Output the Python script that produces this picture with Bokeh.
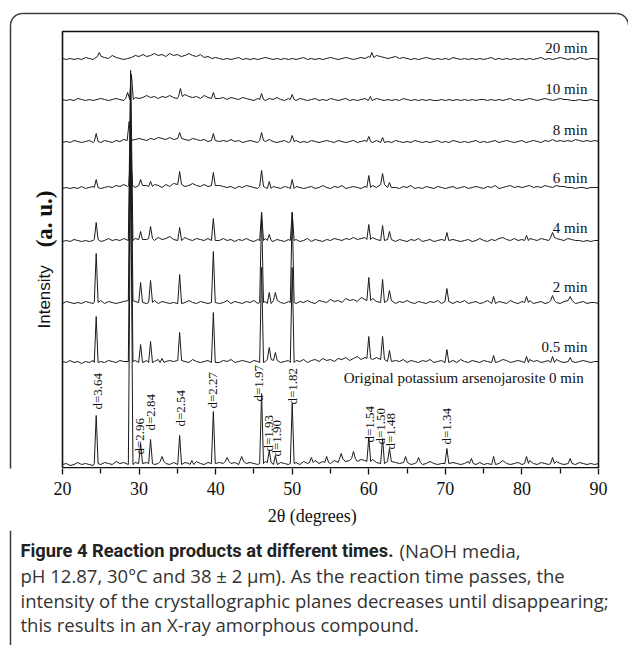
import math
from bokeh.plotting import figure
from bokeh.layouts import column
from bokeh.models import Range1d, FixedTicker
from bokeh.core.properties import value
from bokeh.embed import file_html
from bokeh.resources import INLINE

# ---------------- data ----------------
x_start = 20.0
x_step = 0.5   # sampling step of the background readings (degrees 2-theta)

series_names = ["0 min", "0.5 min", "2 min", "4 min", "6 min", "8 min", "10 min", "20 min"]
offsets = [2, 104, 163, 225, 278, 324, 366, 407]

noise_0 = [2,3,1,2,4,2,3,2,1,3,2,4,3,2,5,3,4,3,2,4,
           3,2,4,3,2,3,5,3,2,4,3,2,4,3,2,5,3,2,4,3,
           2,4,3,5,3,4,2,5,3,4,3,2,3,5,4,3,2,4,3,2,
           3,4,2,5,3,4,6,3,5,4,3,6,4,7,5,6,8,5,7,6,
           5,7,4,6,3,5,7,4,3,5,4,2,3,4,2,3,5,3,2,3,
           3,2,4,3,2,3,5,3,2,4,2,3,4,2,3,6,3,2,3,4,
           2,3,6,3,2,4,3,2,3,5,3,2,4,3,2,4,3,2,3,2,
           3]
noise_05 = [3,2,4,2,3,1,3,2,4,2,3,2,4,3,2,4,3,5,3,4,
            2,3,4,2,3,5,2,3,4,3,2,4,3,2,5,3,2,3,4,2,
            3,2,4,3,5,2,3,4,3,2,4,3,2,3,5,3,4,2,3,4,
            2,4,3,5,2,4,5,3,6,4,5,3,6,5,7,4,6,8,5,7,
            6,5,7,4,5,3,6,4,3,5,2,4,3,2,4,3,5,2,3,4,
            2,3,4,2,5,3,2,4,3,2,4,3,5,2,3,5,4,2,3,4,
            3,2,5,3,4,2,3,4,2,5,3,2,4,3,2,3,4,3,2,3,
            3]
noise_2 = [2,4,3,2,3,2,4,3,2,3,5,2,4,3,2,3,4,3,5,4,
           3,4,2,3,5,2,4,3,2,3,4,2,3,5,3,2,4,3,2,3,
           4,2,3,5,2,4,3,2,4,3,5,2,3,4,2,3,5,3,2,4,
           3,2,4,3,5,3,2,5,4,3,6,4,5,3,7,5,6,4,8,6,
           5,7,4,6,3,5,4,2,4,3,5,3,2,4,3,2,4,3,5,2,
           4,3,2,4,3,5,2,3,4,2,3,5,3,2,4,3,2,5,3,2,
           4,3,5,2,3,4,2,3,5,3,2,4,3,5,2,3,4,2,3,3,
           2]
noise_4 = [2,3,2,4,3,2,3,2,3,4,2,3,5,3,4,3,5,4,3,5,
           4,6,4,5,3,6,4,5,7,4,5,3,6,4,3,5,4,3,5,3,
           4,3,5,3,4,2,4,3,5,3,2,4,3,5,3,2,4,3,2,4,
           3,4,2,3,5,2,4,3,2,4,3,5,4,3,5,4,6,4,5,6,
           4,6,4,5,3,4,3,2,4,3,2,4,3,5,2,3,4,2,3,4,
           3,2,4,3,2,3,4,2,3,5,3,2,4,3,5,6,4,3,5,3,
           4,3,5,4,3,5,4,3,6,5,4,3,5,4,3,3,2,3,2,3,
           3]
noise_6 = [2,3,2,3,2,4,2,3,4,3,2,3,4,3,5,4,6,4,5,3,
           5,7,5,4,6,5,3,6,4,7,5,6,4,5,7,5,4,6,4,5,
           3,5,4,3,4,2,4,3,5,4,3,2,4,3,2,4,3,2,4,3,
           2,4,3,2,3,4,2,3,5,3,2,4,3,5,2,3,4,3,2,4,
           3,5,3,4,6,3,4,3,2,4,3,5,2,3,2,4,3,2,4,3,
           2,3,4,2,3,4,2,3,4,3,2,4,3,5,2,3,4,5,3,4,
           3,4,5,3,4,3,5,4,3,5,4,4,3,3,2,3,3,2,3,3,
           3]
noise_8 = [2,3,2,4,3,2,3,4,2,3,2,4,3,2,4,3,5,4,3,5,
           6,5,4,6,5,7,6,5,7,5,4,6,5,4,6,5,4,5,3,4,
           5,3,4,3,5,3,4,2,3,4,3,2,4,3,5,3,2,3,4,2,
           3,4,2,3,2,4,3,2,3,4,3,2,4,3,2,3,4,2,3,4,
           3,2,4,3,2,3,2,4,3,2,3,2,4,3,2,3,2,3,4,2,
           3,2,4,3,2,3,2,3,4,2,3,2,3,4,2,3,4,3,2,3,
           4,2,3,4,3,2,4,3,5,3,4,3,4,3,5,4,3,4,3,4,
           3]
noise_10 = [3,2,3,2,4,3,2,3,2,3,4,3,2,3,4,3,2,4,3,5,
            4,5,7,5,6,4,6,5,7,5,4,6,8,6,5,6,4,7,5,4,
            6,4,5,3,5,4,3,5,4,3,2,4,3,2,4,3,5,3,2,4,
            3,2,4,3,2,3,4,2,3,2,4,3,2,3,4,2,3,2,3,4,
            2,3,4,3,2,3,2,3,2,4,3,2,3,2,3,2,3,2,2,3,
            2,3,2,3,2,3,2,3,2,3,3,2,3,2,3,2,3,4,2,3,
            2,3,4,3,2,3,4,3,2,3,4,3,3,2,2,3,2,2,3,2,
            2]
noise_20 = [3,2,3,2,3,2,4,3,2,3,5,4,3,6,4,3,2,3,4,6,
            5,7,5,6,8,6,7,5,8,6,7,5,6,8,6,5,7,4,5,3,
            4,3,2,3,2,3,4,2,3,2,3,2,3,4,3,2,3,2,3,2,
            3,2,3,4,2,3,2,3,2,3,4,3,2,3,4,3,2,3,4,3,
            5,4,6,5,4,3,4,5,3,4,3,2,3,2,3,4,3,2,3,2,
            3,2,4,3,2,3,2,3,2,3,2,3,4,2,3,2,3,2,3,2,
            3,2,3,2,3,4,2,3,2,3,4,3,2,3,2,4,3,2,3,3,
            2]

# reflections: (2-theta, height above background)
peaks_0 = [(24.4,48),(28.9,305),(30.2,20),(31.5,24),(33.0,5),(35.3,29),(36.9,4),(39.7,52),
           (41.5,4),(43.4,5),(46.0,70),(47.0,12),(47.8,9),(50.0,60),(52.5,5),(54.5,6),(56.4,6),
           (58.0,7),(60.0,24),(61.8,25),(62.7,13),(64.8,6),(66.5,5),(70.2,15),(73.4,5),(76.3,8),
           (80.6,7),(84.0,6),(86.3,5)]
peaks_05 = [(24.4,46),(28.9,240),(30.2,18),(31.5,21),(33.0,4),(35.3,28),(39.7,50),(46.0,95),
            (47.0,12),(47.8,8),(50.0,95),(60.0,22),(61.8,23),(62.7,11),(70.2,13),(76.3,7),
            (80.6,6),(84.0,6),(86.3,4)]
peaks_2 = [(24.4,49),(28.9,215),(30.2,20),(31.5,22),(35.3,29),(39.7,51),(46.0,90),(47.0,11),
           (47.8,8),(50.0,90),(60.0,23),(61.8,23),(62.7,10),(70.2,13),(76.3,7),(80.6,6),
           (84.0,5),(86.3,4)]
peaks_4 = [(24.4,17),(28.9,170),(30.2,8),(31.5,12),(35.3,13),(39.7,22),(46.0,28),(47.0,6),
           (50.0,28),(60.0,15),(61.8,15),(62.7,8),(70.2,8),(80.6,5),(84.0,5)]
peaks_6 = [(24.4,8),(28.9,30),(30.2,6),(31.5,5),(35.3,13),(39.7,13),(46.0,16),(47.0,7),
           (50.0,9),(60.0,12),(61.8,11),(62.7,5)]
peaks_8 = [(24.4,8),(28.7,19),(35.3,6),(39.7,7),(46.0,8),(50.0,6),(60.0,5),(61.8,5)]
peaks_10 = [(28.5,6),(29.0,25),(35.4,8),(39.7,6),(46.0,6),(50.0,5),(60.2,4)]
peaks_20 = [(24.8,4),(60.4,5)]

all_noise = [noise_0, noise_05, noise_2, noise_4, noise_6, noise_8, noise_10, noise_20]
all_peaks = [peaks_0, peaks_05, peaks_2, peaks_4, peaks_6, peaks_8, peaks_10, peaks_20]

# time labels (right edge in 2-theta, vertical centre in intensity units)
time_label_text = ["20 min", "10 min", "8 min", "6 min", "4 min", "2 min", "0.5 min",
                   "Original potassium arsenojarosite  0 min"]
time_label_y = [421, 380, 339, 291, 241, 182, 122, 91]
time_label_x = [88.55] * 8

# d-spacing labels
d_text = ["d=3.64", "d=2.96", "d=2.84", "d=2.54", "d=2.27", "d=1.97", "d=1.93", "d=1.90",
          "d=1.82", "d=1.54", "d=1.50", "d=1.48", "d=1.34"]
d_x = [24.55, 30.05, 31.5, 35.4, 39.6, 45.65, 46.9, 47.95, 50.0, 60.1, 61.55, 62.9, 70.15]
d_y = [59, 14, 38, 42, 60, 67, 17, 12, 64, 26, 24, 19, 24]

x_ticks = [20, 30, 40, 50, 60, 70, 80, 90]
x_minor = [25, 35, 45, 55, 65, 75, 85]
y_title_main = "Intensity"
y_title_unit = "(a. u.)"
x_title = "2θ  (degrees)"

cap_bold = "Figure 4 Reaction products at different times."
cap_l1 = "(NaOH media,"
cap_l2 = "pH 12.87, 30°C and 38 ± 2 μm). As the reaction time passes, the"
cap_l3 = "intensity of the crystallographic planes decreases until disappearing;"
cap_l4 = "this results in an X-ray amorphous compound."

# ---------------- layout geometry (pixels) ----------------
W = 628
FL, FT, FR, FB = 62, 31, 598, 468     # inner chart box
H1 = 530                              # chart figure height (frame 0..468 + axis panel)
H2 = 645 - H1                         # caption figure height
K = (FR - FL) / (x_ticks[-1] - x_ticks[0])   # px per degree


def X2D(X):
    return x_ticks[0] + (X - FL) / K


def Y2D(Y):
    return FB - Y


INK = "#111111"
BOX = "#3c3c3c"

p = figure(width=W, height=H1, output_backend="svg", toolbar_location=None,
           x_range=Range1d(X2D(0), X2D(W)), y_range=Range1d(0, FB),
           y_axis_location=None, min_border_left=0, min_border_top=0,
           min_border_right=0, min_border_bottom=H1 - FB)
p.grid.visible = False
p.background_fill_color = "white"
p.border_fill_color = "white"
p.outline_line_color = None

ax = p.xaxis[0]
ax.ticker = FixedTicker(ticks=x_ticks, minor_ticks=x_minor)
ax.axis_line_color = None
ax.major_tick_in = 0
ax.major_tick_out = 6
ax.minor_tick_in = 0
ax.minor_tick_out = 5
ax.major_tick_line_color = INK
ax.minor_tick_line_color = INK
ax.major_tick_line_width = 1.3
ax.minor_tick_line_width = 1.3
ax.major_label_text_font = "Liberation Serif"
ax.major_label_text_font_size = "18px"
ax.major_label_text_color = INK
ax.major_label_standoff = 7
ax.axis_label = x_title
ax.axis_label_text_font = "Liberation Serif"
ax.axis_label_text_font_size = "18px"
ax.axis_label_text_font_style = "normal"
ax.axis_label_text_color = INK
ax.axis_label_standoff = 8

# chart box
x0, x1 = x_ticks[0], x_ticks[-1]
yb, yt = Y2D(FB - 0.7), Y2D(FT)
p.line([x0, x1, x1, x0, x0], [yb, yb, yt, yt, yb], line_color=INK, line_width=1.6)

# traces
for noise, peaks, off in zip(all_noise, all_peaks, offsets):
    pts = []
    for i, v in enumerate(noise):
        gx = x_start + x_step * i
        near = False
        for (px_, ph) in peaks:
            w = 0.3 if ph > 100 else 0.25
            if abs(gx - px_) < w + 0.12:
                near = True
        if not near:
            pts.append((gx, off + v))
    for (px_, ph) in peaks:
        w = 0.3 if ph > 100 else 0.25
        idx = int(round((px_ - x_start) / x_step))
        b = noise[idx]
        pts.append((px_ - w, off + b))
        pts.append((px_, off + b + ph))
        pts.append((px_ + w, off + b))
    pts.sort(key=lambda t: t[0])
    p.line([t[0] for t in pts], [t[1] for t in pts], line_color="#1a1a1a", line_width=1.0)

# time labels
p.text(x=time_label_x, y=time_label_y, text=time_label_text,
       text_font=value("Liberation Serif"), text_font_size="15px",
       text_align="right", text_baseline="middle", text_color=INK)

# d labels
p.text(x=d_x, y=d_y, text=d_text, angle=math.pi / 2,
       text_font=value("Liberation Serif"), text_font_size="13px",
       text_align="left", text_baseline="middle", text_color=INK)

# y title
p.text(x=[X2D(44)], y=[Y2D(328)], text=[y_title_main], angle=math.pi / 2,
       text_font=value("Liberation Sans"), text_font_size="17px",
       text_align="left", text_baseline="middle", text_color=INK)
p.text(x=[X2D(44)], y=[Y2D(190)], text=[y_title_unit], angle=math.pi / 2,
       text_font=value("Liberation Serif"), text_font_style="bold", text_font_size="23px",
       text_align="right", text_baseline="middle", text_color=INK)

# rounded page frame (top part)
R = 12
p.line([X2D(10 + R), X2D(616)], [Y2D(13), Y2D(13)], line_color=BOX, line_width=1.5)
p.line([X2D(10), X2D(10)], [Y2D(13 + R), Y2D(FB + 2)], line_color=BOX, line_width=1.5)
p.arc(x=[X2D(10 + R)], y=[Y2D(13 + R)], radius=R, radius_units="screen",
      start_angle=math.pi / 2, end_angle=math.pi, line_color=BOX, line_width=1.5)
p.arc(x=[X2D(616)], y=[Y2D(13 + R)], radius=R, radius_units="screen",
      start_angle=0, end_angle=math.pi / 2, line_color=BOX, line_width=1.5)

# ---------------- caption figure ----------------
c = figure(width=W, height=H2, output_backend="svg", toolbar_location=None,
           x_range=Range1d(0, W), y_range=Range1d(H2, 0),
           x_axis_location=None, y_axis_location=None,
           min_border_left=0, min_border_top=0, min_border_right=0, min_border_bottom=0)
c.grid.visible = False
c.outline_line_color = None
c.background_fill_color = "white"
c.border_fill_color = "white"

c.line([10, 10], [0, H2], line_color=BOX, line_width=1.5)

c.text(x=[20], y=[550 - H1], text=[cap_bold], text_font=value("Roboto"),
       text_font_style="bold", text_font_size="18.3px", text_align="left",
       text_baseline="middle", text_color="#222222")
c.text(x=[399, 20, 20, 20], y=[550 - H1, 575 - H1, 600 - H1, 624 - H1],
       text=[cap_l1, cap_l2, cap_l3, cap_l4], text_font=value("Open Sans"),
       text_font_size="18.5px", text_align="left", text_baseline="middle",
       text_color="#333333")

layout = column(p, c, spacing=0)
open("out.html", "w").write(file_html(layout, INLINE))
